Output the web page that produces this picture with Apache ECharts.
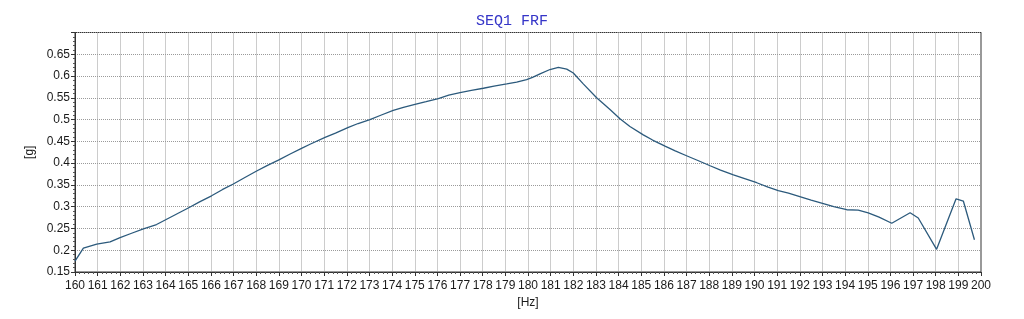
<!DOCTYPE html>
<html>
<head>
<meta charset="utf-8">
<script src="https://cdn.jsdelivr.net/npm/echarts@6/dist/echarts.min.js"></script>
<style>html,body{margin:0;padding:0;background:#fff;}#c{width:1024px;height:319px;}</style>
</head>
<body>
<div id="c"></div>
<script>
var titleText = 'SEQ1 FRF';
var xName = '[Hz]';
var yName = '[g]';
var freq = [160.0, 160.37, 160.96, 161.55, 161.99, 162.5, 163.02, 163.6, 164.3, 165.0, 165.5, 166.03, 166.5, 166.99, 167.5, 168.02, 168.5, 168.98, 169.5, 170.0, 170.4, 171.04, 171.5, 172.07, 172.5, 173.02, 173.5, 174.05, 174.5, 175.01, 175.5, 176.04, 176.5, 177.0, 177.5, 178.03, 178.5, 179.06, 179.5, 179.94, 180.2, 180.53, 180.97, 181.34, 181.71, 182.0, 182.44, 183.03, 183.62, 184.06, 184.5, 185.09, 185.5, 186.05, 186.5, 187.0, 187.5, 188.04, 188.5, 189.07, 189.6, 190.1, 190.6, 191.05, 191.5, 192.0, 192.5, 193.04, 193.5, 194.07, 194.58, 195.02, 195.5, 196.06, 196.87, 197.23, 198.04, 198.41, 198.9, 199.22, 199.71];
var gValues = [0.175, 0.205, 0.214, 0.219, 0.229, 0.239, 0.249, 0.259, 0.278, 0.297, 0.311, 0.325, 0.339, 0.352, 0.367, 0.382, 0.395, 0.407, 0.421, 0.434, 0.444, 0.459, 0.469, 0.482, 0.491, 0.500, 0.510, 0.521, 0.528, 0.535, 0.541, 0.548, 0.556, 0.562, 0.567, 0.572, 0.577, 0.582, 0.586, 0.592, 0.597, 0.605, 0.615, 0.620, 0.616, 0.607, 0.582, 0.550, 0.523, 0.502, 0.484, 0.465, 0.453, 0.439, 0.428, 0.417, 0.406, 0.394, 0.384, 0.373, 0.364, 0.355, 0.345, 0.337, 0.331, 0.323, 0.315, 0.307, 0.300, 0.293, 0.292, 0.286, 0.276, 0.262, 0.286, 0.274, 0.202, 0.252, 0.318, 0.313, 0.224];
var data = freq.map(function (f, i) { return [f, gValues[i]]; });

var chart = echarts.init(document.getElementById('c'), null, {renderer: 'canvas'});
var labelFont = {color: '#1a1a1a', fontSize: 12, fontFamily: 'Liberation Sans, Arial, sans-serif'};
chart.setOption({
  animation: false,
  backgroundColor: '#ffffff',
  title: {
    text: titleText, left: 'center', top: 9,
    textStyle: {color: '#3535c8', fontSize: 15, fontWeight: 'normal', fontFamily: 'Liberation Mono, DejaVu Sans Mono, monospace'}
  },
  grid: {left: 75, right: 43, top: 32.5, bottom: 47, show: true, borderColor: '#333', borderWidth: 1, backgroundColor: '#fff'},
  xAxis: {
    type: 'value', min: 160, max: 200, interval: 1,
    name: xName, nameLocation: 'middle', nameGap: 23,
    nameTextStyle: labelFont,
    axisLine: {show: true, onZero: false, lineStyle: {color: '#333', width: 1}},
    axisTick: {show: true, length: 4, lineStyle: {color: '#333'}},
    minorTick: {show: true, splitNumber: 5, length: 2, lineStyle: {color: '#555'}},
    axisLabel: Object.assign({margin: 8}, labelFont),
    splitLine: {show: true, lineStyle: {color: '#9a9a9a', type: [1, 1], width: 1}}
  },
  yAxis: {
    type: 'value', min: 0.15, max: 0.7, interval: 0.05,
    name: yName, nameLocation: 'middle', nameGap: 34, nameRotate: 90,
    nameTextStyle: labelFont,
    axisLine: {show: true, onZero: false, lineStyle: {color: '#333', width: 1}},
    axisTick: {show: true, length: 4, lineStyle: {color: '#333'}},
    minorTick: {show: true, splitNumber: 5, length: 2, lineStyle: {color: '#555'}},
    axisLabel: Object.assign({margin: 5, formatter: function (v) {
      var r = Math.round(v * 100) / 100;
      if (r >= 0.695) return '';
      return String(r);
    }}, labelFont),
    splitLine: {show: true, lineStyle: {color: '#9a9a9a', type: [1, 1], width: 1}}
  },
  series: [{
    type: 'line', data: data, showSymbol: false, symbol: 'none',
    lineStyle: {color: '#2c5a7c', width: 1.3}
  }]
});
</script>
</body>
</html>
